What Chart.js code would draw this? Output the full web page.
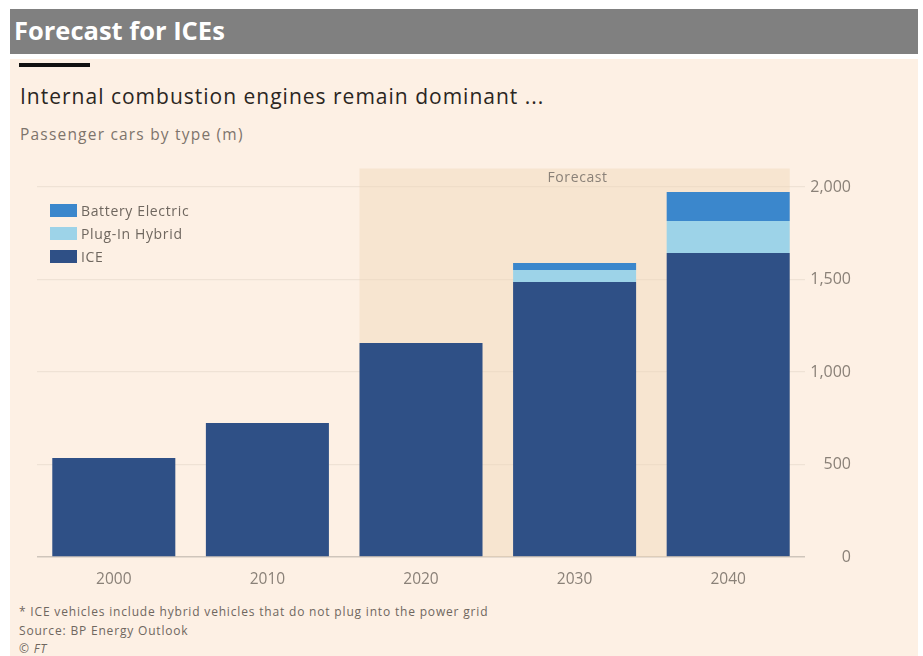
<!DOCTYPE html>
<html>
<head>
<meta charset="utf-8">
<script src="https://cdn.jsdelivr.net/npm/chart.js@4/dist/chart.umd.min.js"></script>
<style>
  html, body { margin: 0; padding: 0; background: #ffffff; }
  body { width: 923px; height: 656px; position: relative; overflow: hidden; font-family: "Open Sans", "Noto Sans", sans-serif; }
  .barra { position: absolute; left: 10px; top: 9px; width: 908px; height: 45px; background: #808080; }
  .barra span { position: absolute; left: 4px; top: 4px; color: #fff; font: bold 25.5px "Open Sans", sans-serif; }
  .fundo { position: absolute; left: 10px; top: 59px; width: 908px; height: 597px; background: #fdf0e4; }
  .traco { position: absolute; left: 19px; top: 63px; width: 71px; height: 4px; background: #111; }
  .titulo { position: absolute; left: 20px; top: 82px; font-size: 21px; letter-spacing: 1px; color: #2b2622; }
  .sub { position: absolute; left: 20px; top: 123px; font-size: 15.5px; letter-spacing: 1.2px; color: #7d746c; }
  .legenda { position: absolute; left: 50px; top: 202px; font-size: 14px; letter-spacing: 0.65px; color: #6f675f; }
  .legenda div { height: 23px; line-height: 17px; }
  .legenda i { display: inline-block; width: 27px; height: 13px; margin-right: 4px; vertical-align: -1px; }
  .rodape { position: absolute; left: 19px; top: 603px; font-size: 12px; letter-spacing: 0.82px; color: #6f675f; line-height: 18.5px; }
  canvas#grafico { position: absolute; left: 0; top: 150px; }
</style>
</head>
<body>
<div class="barra"><span>Forecast for ICEs</span></div>
<div class="fundo"></div>
<div class="traco"></div>
<div class="titulo">Internal combustion engines remain dominant ...</div>
<div class="sub">Passenger cars by type (m)</div>
<canvas id="grafico" width="923" height="445"></canvas>
<div class="legenda" id="legenda"></div>
<div class="rodape">
  * ICE vehicles include hybrid vehicles that do not plug into the power grid<br>
  Source: BP Energy Outlook<br>
  <i>© FT</i>
</div>
<script>
// --- dados (milhoes de carros) ---
const anos = ['2000', '2010', '2020', '2030', '2040'];
const ice = [535, 724, 1157, 1486, 1643];
const plugInHybrid = [0, 0, 0, 65, 173];
const batteryElectric = [0, 0, 0, 38, 157];
const ticksY = [0, 500, 1000, 1500, 2000];
const inicioPrevisao = 2; // indice de 2020

const cores = { ice: '#2f5086', phev: '#9dd3e8', bev: '#3b87cc' };

// legenda em html, na ordem da imagem
const itensLegenda = [
  ['Battery Electric', cores.bev],
  ['Plug-In Hybrid', cores.phev],
  ['ICE', cores.ice]
];
document.getElementById('legenda').innerHTML = itensLegenda
  .map(([nome, cor]) => `<div><i style="background:${cor}"></i>${nome}</div>`).join('');

// faixa "Forecast" atras das barras
const faixaPrevisao = {
  id: 'faixaPrevisao',
  beforeDatasetsDraw(chart) {
    const { ctx, chartArea } = chart;
    const barras = chart.getDatasetMeta(0).data;
    const b0 = barras[inicioPrevisao], b1 = barras[barras.length - 1];
    const x0 = b0.x - b0.width / 2, x1 = b1.x + b1.width / 2;
    ctx.save();
    ctx.fillStyle = 'rgba(240, 215, 185, 0.45)';
    ctx.fillRect(x0, chartArea.top, x1 - x0, chartArea.bottom - chartArea.top);
    ctx.fillStyle = '#8a8178';
    ctx.font = '14px "Open Sans", sans-serif';
    ctx.letterSpacing = '0.6px';
    ctx.textAlign = 'center';
    ctx.textBaseline = 'middle';
    ctx.fillText('Forecast', (x0 + x1) / 2 + 3, chartArea.top + 10);
    ctx.restore();
  }
};

new Chart(document.getElementById('grafico'), {
  type: 'bar',
  data: {
    labels: anos,
    datasets: [
      { label: 'ICE', data: ice, backgroundColor: cores.ice },
      { label: 'Plug-In Hybrid', data: plugInHybrid, backgroundColor: cores.phev },
      { label: 'Battery Electric', data: batteryElectric, backgroundColor: cores.bev }
    ]
  },
  options: {
    responsive: false,
    animation: false,
    barPercentage: 0.89,
    categoryPercentage: 0.9,
    layout: { padding: { left: 37, right: 72, top: 18.5, bottom: 0 } },
    plugins: { legend: { display: false }, tooltip: { enabled: false } },
    scales: {
      x: {
        stacked: true,
        grid: { display: false },
        border: { display: false },
        ticks: { color: '#8a8178', font: { size: 15.5, family: 'Open Sans' }, padding: 5 },
        afterFit: (s) => { s.height = 38; }
      },
      y: {
        stacked: true,
        position: 'right',
        min: 0,
        max: 2100,
        afterBuildTicks: (s) => { s.ticks = ticksY.map(v => ({ value: v })); },
        grid: {
          drawTicks: false,
          color: (c) => c.tick && c.tick.value === 0 ? '#cfc5bb' : '#efe2d5',
          lineWidth: (c) => c.tick && c.tick.value === 0 ? 1.5 : 1.2
        },
        border: { display: false },
        ticks: {
          color: '#8a8178',
          font: { size: 16, family: 'Open Sans' },
          crossAlign: 'far',
          padding: 4,
          callback: (v) => v.toLocaleString('en-US')
        },
        afterFit: (s) => { s.width = 46; }
      }
    }
  },
  plugins: [faixaPrevisao]
});
</script>
</body>
</html>
